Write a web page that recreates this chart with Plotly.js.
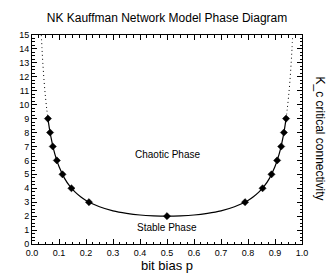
<!DOCTYPE html>
<html>
<head>
<meta charset="utf-8">
<script src="https://cdn.plot.ly/plotly-3.0.1.min.js"></script>
<style>html,body{margin:0;padding:0;background:#fff;}#chart{width:334px;height:278px;}</style>
</head>
<body>
<div id="chart"></div>
<script>
// Marker points (integer K values)
const markerK = [9, 8, 7, 6, 5, 4, 3, 2, 3, 4, 5, 6, 7, 8, 9];
const markerP = [0.059, 0.067, 0.077, 0.092, 0.113, 0.146, 0.211, 0.5, 0.789, 0.854, 0.887, 0.908, 0.923, 0.933, 0.941];

// Solid curve between the outermost markers
const solidP = [0.059, 0.065, 0.07, 0.08, 0.09, 0.10, 0.12, 0.14, 0.16, 0.18, 0.20, 0.25, 0.30, 0.35, 0.40, 0.45, 0.50,
                0.55, 0.60, 0.65, 0.70, 0.75, 0.80, 0.82, 0.84, 0.86, 0.88, 0.90, 0.91, 0.92, 0.93, 0.935, 0.941];
const solidK = [9.0, 8.23, 7.68, 6.79, 6.11, 5.56, 4.73, 4.15, 3.72, 3.39, 3.125, 2.67, 2.38, 2.20, 2.08, 2.02, 2.0,
                2.02, 2.08, 2.20, 2.38, 2.67, 3.125, 3.39, 3.72, 4.15, 4.73, 5.56, 6.11, 6.79, 7.68, 8.23, 9.0];

// Dotted continuation above K = 9
const dotLeftP = [0.0345, 0.037, 0.04, 0.045, 0.05, 0.055, 0.059];
const dotLeftK = [15.0, 14.03, 13.02, 11.63, 10.53, 9.62, 9.0];
const dotRightP = [0.941, 0.945, 0.95, 0.955, 0.96, 0.963, 0.9655];
const dotRightK = [9.0, 9.62, 10.53, 11.63, 13.02, 14.03, 15.0];

const xTicks = [0, 0.1, 0.2, 0.3, 0.4, 0.5, 0.6, 0.7, 0.8, 0.9, 1.0];
const xTickText = ['0.0', '0.1', '0.2', '0.3', '0.4', '0.5', '0.6', '0.7', '0.8', '0.9', '1.0'];

const FONT = 'Liberation Sans, Arial, Helvetica, sans-serif';

const traces = [
  {x: dotLeftP, y: dotLeftK, mode: 'lines', line: {color: '#000', width: 1, dash: '1px,3px', shape: 'spline'}, hoverinfo: 'skip'},
  {x: dotRightP, y: dotRightK, mode: 'lines', line: {color: '#000', width: 1, dash: '1px,3px', shape: 'spline'}, hoverinfo: 'skip'},
  {x: solidP, y: solidK, mode: 'lines', line: {color: '#000', width: 1.2, shape: 'spline'}},
  {x: markerP, y: markerK, mode: 'markers', marker: {symbol: 'diamond', size: 5.5, color: '#000', line: {color: '#000', width: 0.5}}}
];

const layout = {
  width: 334, height: 278,
  margin: {l: 32, r: 32, t: 35, b: 34},
  paper_bgcolor: '#fff', plot_bgcolor: '#fff',
  showlegend: false,
  font: {family: FONT, color: '#000', size: 9},
  title: {text: 'NK Kauffman Network Model Phase Diagram', font: {family: FONT, size: 12, color: '#000'},
          x: 0.5, xanchor: 'center', y: 1 - 18 / 278, yref: 'container', yanchor: 'middle'},
  xaxis: {
    range: [0, 1], tickvals: xTicks, ticktext: xTickText,
    showgrid: false, zeroline: false, showline: true, linecolor: '#000', linewidth: 1, mirror: 'ticks',
    ticks: 'inside', ticklen: 5, tickcolor: '#000', tickwidth: 1,
    minor: {dtick: 0.025, ticks: 'inside', ticklen: 2.5, tickcolor: '#000', showgrid: false},
    tickfont: {family: FONT, size: 9, color: '#000'},
    title: {text: 'bit bias p', font: {family: FONT, size: 13, color: '#000'}, standoff: 2},
    automargin: false, fixedrange: true
  },
  yaxis: {
    range: [0, 15], dtick: 1, tick0: 0,
    showgrid: false, zeroline: false, showline: true, linecolor: '#000', linewidth: 1, mirror: 'ticks',
    ticks: 'inside', ticklen: 5, tickcolor: '#000', tickwidth: 1,
    minor: {dtick: 0.25, ticks: 'inside', ticklen: 2.5, tickcolor: '#000', showgrid: false},
    tickfont: {family: FONT, size: 9, color: '#000'},
    automargin: false, fixedrange: true
  },
  annotations: [
    {text: 'K_c critical connectivity', xref: 'paper', yref: 'paper', x: (320 - 32) / 270, y: 0.505,
     textangle: 90, showarrow: false, font: {family: FONT, size: 12, color: '#000'}, xanchor: 'center', yanchor: 'middle'},
    {text: 'Chaotic Phase', xref: 'x', yref: 'y', x: 0.5, y: 6.45, showarrow: false,
     font: {family: FONT, size: 10, color: '#000'}},
    {text: 'Stable Phase', xref: 'x', yref: 'y', x: 0.5, y: 1.22, showarrow: false,
     font: {family: FONT, size: 10, color: '#000'}}
  ]
};

Plotly.newPlot('chart', traces, layout, {displayModeBar: false, staticPlot: true});
</script>
</body>
</html>
